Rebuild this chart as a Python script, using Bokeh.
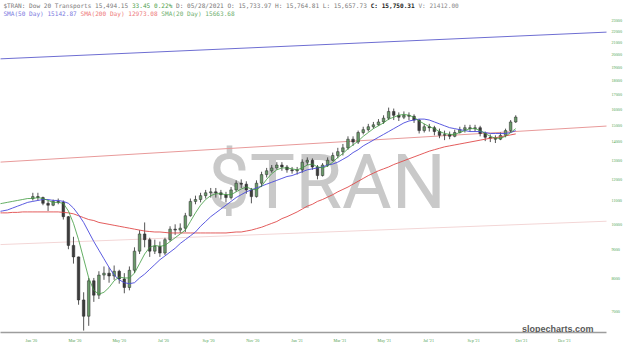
import pandas as pd
from bokeh.plotting import figure
from bokeh.models import (Range1d, FixedTicker, NumeralTickFormatter, Label,
                          ColumnDataSource, CustomJSTickFormatter)
from bokeh.embed import file_html
from bokeh.resources import INLINE

# ---------------- data (weekly bars) ----------------
bar_dates = pd.date_range("2020-01-03", periods=96, freq="W-FRI")
opens = [11107, 11194, 11150, 10891, 10807, 10977, 10934, 10312, 9170, 8749,
         7337, 6864, 7934, 7482, 8122, 8186, 8091, 8250, 7996, 7720,
         8283, 8957, 9610, 9387, 8957, 9134, 8887, 9387, 9800, 9762,
         9839, 10352, 10977, 11063, 11238, 11370, 11415, 11370, 11282, 11150,
         11505, 11825, 11779, 11505, 11194, 11825, 12248, 12441, 12588, 12737,
         12637, 12490, 12441, 12490, 12887, 12988, 12637, 12200, 12737, 12988,
         13245, 13454, 13666, 14156, 13991, 14548, 14720, 14896, 15013, 15191,
         15428, 15858, 15610, 15488, 15610, 15549, 15310, 14662, 14896, 14838,
         14605, 14380, 14436, 14323, 14548, 14720, 14838, 14780, 14838, 14491,
         14268, 14212, 14156, 14380, 14662, 15191]
closes = [11194, 11150, 10891, 10807, 10977, 10934, 10312, 9170, 8749, 7337,
          6864, 7934, 7482, 8122, 8186, 8091, 8250, 7996, 7720, 8283,
          8957, 9610, 9387, 8957, 9134, 8887, 9387, 9800, 9762, 9839,
          10352, 10977, 11063, 11238, 11370, 11415, 11370, 11282, 11150, 11505,
          11825, 11779, 11505, 11194, 11825, 12248, 12441, 12588, 12737, 12637,
          12490, 12441, 12490, 12887, 12988, 12637, 12200, 12737, 12988, 13245,
          13454, 13666, 14156, 13991, 14548, 14720, 14896, 15013, 15191, 15428,
          15858, 15610, 15488, 15610, 15549, 15310, 14662, 14896, 14838, 14605,
          14380, 14436, 14323, 14548, 14720, 14838, 14780, 14838, 14491, 14268,
          14212, 14156, 14380, 14662, 15191, 15494]
highs = [11370, 11370, 11194, 11020, 11063, 11107, 11020, 10340, 9498, 8760,
         7570, 8027, 8027, 8250, 8413, 8380, 8446, 8300, 8186, 8413,
         9098, 9762, 10072, 9461, 9387, 9314, 9461, 9916, 9994, 10033,
         10474, 11107, 11238, 11370, 11505, 11596, 11596, 11505, 11415, 11641,
         11964, 12011, 11917, 11596, 11964, 12392, 12588, 12737, 12887, 12887,
         12737, 12637, 12637, 13039, 13142, 13090, 12737, 12837, 13142, 13402,
         13666, 13882, 14323, 14323, 14662, 14896, 15072, 15191, 15368, 15610,
         16108, 16046, 15796, 15858, 15796, 15673, 15368, 15072, 15072, 14954,
         14780, 14662, 14605, 14720, 14896, 15013, 15013, 15013, 14954, 14605,
         14436, 14380, 14548, 14780, 15310, 15610]
lows = [11020, 11020, 10807, 10556, 10765, 10849, 10192, 9027, 8512, 7194,
        6472, 6600, 7279, 7365, 7965, 7872, 7965, 7841, 7540, 7630,
        8186, 8852, 9098, 8749, 8852, 8749, 8817, 9314, 9573, 9648,
        9686, 10312, 10849, 10934, 11107, 11150, 11150, 11063, 10934, 11063,
        11415, 11596, 11326, 10891, 11150, 11641, 12105, 12344, 12490, 12441,
        12344, 12296, 12248, 12344, 12737, 12490, 12011, 12152, 12637, 12937,
        13090, 13245, 13560, 13774, 13882, 14436, 14605, 14780, 14954, 15072,
        15310, 15310, 15250, 15368, 15310, 15131, 14491, 14548, 14605, 14380,
        14212, 14101, 14156, 14268, 14491, 14548, 14605, 14605, 14323, 14045,
        13991, 13936, 14101, 14268, 14548, 15131]

sma_dates = pd.date_range("2019-11-15", periods=103, freq="W-FRI")
sma20 = [10849, 10891, 10934, 10977, 11020, 11063, 11107,
         11107, 11150, 11107, 11020, 10934, 10934, 10891, 10556, 10033, 9387,
         8681, 8027, 7630, 7511, 7570, 7720, 7934, 8059, 8027, 8027,
         8186, 8512, 8852, 9098, 9170, 9134, 9170, 9314, 9461, 9610,
         9762, 10111, 10474, 10807, 11063, 11238, 11326, 11326, 11282, 11282,
         11415, 11550, 11641, 11550, 11505, 11687, 12011, 12296, 12490, 12588,
         12588, 12539, 12490, 12588, 12737, 12787, 12637, 12588, 12687, 12887,
         13142, 13349, 13613, 13828, 14045, 14323, 14548, 14780, 14954, 15131,
         15368, 15488, 15610, 15673, 15610, 15488, 15250, 15072, 14896, 14780,
         14605, 14491, 14436, 14436, 14548, 14662, 14780, 14780, 14662, 14491,
         14323, 14212, 14212, 14323, 14548, 14780]
sma50 = [10515, 10556, 10598, 10681, 10765, 10849, 10934,
         10977, 11020, 11063, 11063, 11020, 11020, 10977, 10891, 10681, 10392,
         10072, 9686, 9314, 8992, 8681, 8380, 8122, 7965, 7872, 7841,
         7872, 8027, 8154, 8315, 8479, 8647, 8783, 8922, 9063, 9241,
         9387, 9536, 9686, 9916, 10111, 10312, 10474, 10639, 10807, 10977,
         11150, 11282, 11415, 11505, 11596, 11687, 11779, 11871, 11964, 12058,
         12152, 12200, 12296, 12392, 12490, 12539, 12588, 12637, 12737, 12787,
         12887, 13039, 13193, 13402, 13560, 13774, 13936, 14101, 14268, 14436,
         14605, 14780, 14954, 15131, 15250, 15310, 15368, 15368, 15310, 15191,
         15072, 14954, 14838, 14780, 14720, 14662, 14605, 14605, 14605, 14548,
         14491, 14491, 14491, 14491, 14548, 14662]
sma200 = [10474, 10474, 10474, 10495, 10495, 10515, 10515,
          10515, 10515, 10515, 10515, 10515, 10515, 10495,
          10474, 10433, 10352, 10271, 10192, 10151, 10072, 10033, 9994, 9955,
          9916, 9877, 9839, 9800, 9762, 9724, 9705, 9686, 9686, 9667, 9648,
          9648, 9648, 9648, 9648, 9648, 9648, 9648, 9648, 9648, 9648, 9648,
          9667, 9686, 9686, 9724, 9762, 9820, 9877, 9955, 10033, 10111,
          10231, 10312, 10413, 10515, 10639, 10765, 10849, 10977, 11063, 11172,
          11282, 11415, 11528, 11641, 11779, 11917, 12058, 12200, 12320, 12441,
          12539, 12637, 12762, 12862, 12963, 13065, 13168, 13271, 13375, 13480,
          13560, 13640, 13720, 13774, 13828, 13882, 13936, 13991, 14045, 14101,
          14156, 14212, 14240, 14295, 14352, 14408, 14464]

trend_dates = pd.to_datetime(["2019-11-19", "2022-03-27"])
trend_blue = [19660, 22000]
trend_red = [12890, 15000]
trend_faint = [9200, 10150]

tick_dates = ["2020-01-01", "2020-03-01", "2020-05-01", "2020-07-01", "2020-09-01",
              "2020-11-01", "2021-01-01", "2021-03-01", "2021-05-01", "2021-07-01",
              "2021-09-01", "2021-11-06", "2022-01-04"]
tick_labels = ["Jan '20", "Mar '20", "May '20", "Jul '20", "Sep '20", "Nov '20",
               "Jan '21", "Mar '21", "May '21", "Jul '21", "Sep '21", "Oct '21", "Dec '21"]
y_ticks = [7000, 8000, 9000, 10000, 11000, 12000, 13000, 14000, 15000, 16000,
           17000, 18000, 19000, 20000, 21000, 22000, 23000]

header1 = [("$TRAN: Dow 20 Transports 15,494.15 ", "#7a7a7a", "normal"),
           ("33.45 0.22% ", "#4f9f4f", "normal"),
           ("D: 05/28/2021 O: 15,733.97 H: 15,764.81 L: 15,657.73 ", "#7a7a7a", "normal"),
           ("C: 15,750.31 ", "#222222", "bold"),
           ("V:  21412.00", "#8a8a8a", "normal")]
header2 = [("SMA(50 Day) 15142.87 ", "#7b7be0", "normal"),
           ("SMA(200 Day) 12973.08 ", "#ee7b7b", "normal"),
           ("SMA(20 Day) 15663.68", "#6fb06f", "normal")]

assert len(opens) == len(closes) == len(highs) == len(lows) == len(bar_dates)
assert len(sma20) == len(sma50) == len(sma200) == len(sma_dates)

# ---------------- figure ----------------
FW, FH = 606, 332
p = figure(frame_width=FW, frame_height=FH, x_axis_type="datetime", y_axis_type="log",
           y_axis_location="right",
           x_range=Range1d(pd.Timestamp("2019-11-19 12:00"), pd.Timestamp("2022-03-03")),
           y_range=Range1d(6422, 24960),
           output_backend="svg", toolbar_location=None,
           min_border_left=0, min_border_right=0, min_border_top=0,
           min_border_bottom=0)
p.outline_line_color = None
p.xgrid.visible = False
p.ygrid.visible = False
p.background_fill_color = "white"

# watermark
p.add_layout(Label(x=326, y=FH - 181, x_units="screen", y_units="screen",
                   text="$TRAN", text_align="center", text_baseline="middle",
                   text_font="Roboto", text_font_size="76px",
                   text_color="#c9c9c9", level="underlay"))

# trend lines
p.line(trend_dates, trend_faint, line_color="#f3d6d6", line_width=1)
p.line(trend_dates, trend_red, line_color="#e89a9a", line_width=1)
p.line(trend_dates, trend_blue, line_color="#6e6ed2", line_width=1)

# candles
up = [c >= o for o, c in zip(opens, closes)]
src = ColumnDataSource(dict(
    date=bar_dates, high=highs, low=lows,
    top=[max(o, c) for o, c in zip(opens, closes)],
    bottom=[min(o, c) for o, c in zip(opens, closes)],
    color=["#6a9a6a" if u else "#3c3c3c" for u in up]))
p.segment(x0="date", y0="high", x1="date", y1="low", source=src,
          line_color="#2a2a2a", line_width=0.8)
p.vbar(x="date", width=3.6 * 24 * 3600 * 1000, top="top", bottom="bottom",
       source=src, fill_color="color", line_color="#2a2a2a", line_width=0.5)

# moving averages
p.line(sma_dates, sma200, line_color="#e04a4a", line_width=0.9)
p.line(sma_dates, sma50, line_color="#4848dc", line_width=0.9)
p.line(sma_dates, sma20, line_color="#3d9a3d", line_width=0.8)

# axes
tick_ms = [pd.Timestamp(d).value / 1e6 for d in tick_dates]
p.xaxis.ticker = FixedTicker(ticks=tick_ms)
p.xaxis.formatter = CustomJSTickFormatter(
    args=dict(tvals=tick_ms, tlabels=tick_labels),
    code="""
    for (let i = 0; i < tvals.length; i++) {
        if (Math.abs(tvals[i] - tick) < 1) { return tlabels[i]; }
    }
    return "";
    """)
for ax in (p.xaxis[0], p.yaxis[0]):
    ax.major_tick_line_color = None
    ax.minor_tick_line_color = None
    ax.major_tick_out = 0
    ax.major_tick_in = 0
    ax.minor_tick_out = 0
    ax.minor_tick_in = 0
    ax.major_label_standoff = 5
    ax.major_label_text_font = "Liberation Serif"
    ax.major_label_text_font_size = "4.2px"
    ax.major_label_text_color = "#4f9f4f"
p.xaxis.axis_line_color = "#9d9d9d"
p.xaxis.axis_line_width = 1.5
p.yaxis.ticker = FixedTicker(ticks=y_ticks)
p.yaxis.formatter = NumeralTickFormatter(format="0")
p.yaxis.axis_line_color = None

# header texts
FS = 6.1
CW = 0.6021 * FS
def put_line(parts, y):
    x = 2.9
    for txt, col, style in parts:
        p.add_layout(Label(x=x, y=y, x_units="screen", y_units="screen", text=txt,
                           text_font="DejaVu Sans Mono", text_font_size=f"{FS}px",
                           text_font_style=style, text_color=col,
                           text_baseline="middle", text_align="left"))
        x += len(txt) * CW
put_line(header1, FH - 5.3)
put_line(header2, FH - 13.4)

# site mark
p.add_layout(Label(x=593, y=3.2, x_units="screen", y_units="screen",
                   text="slopecharts.com", text_align="right", text_baseline="alphabetic",
                   text_font="Liberation Sans", text_font_style="bold",
                   text_font_size="9px", text_color="#5a5a5a"))

open("out.html", "w").write(file_html(p, INLINE))
